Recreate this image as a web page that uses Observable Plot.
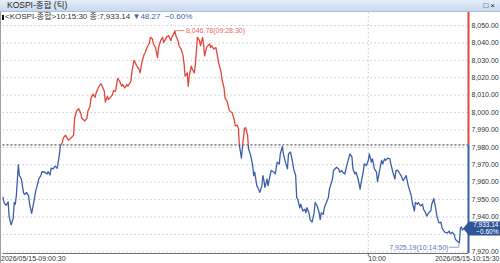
<!DOCTYPE html>
<html><head><meta charset="utf-8">
<script src="https://cdn.jsdelivr.net/npm/d3@7"></script>
<script src="https://cdn.jsdelivr.net/npm/@observablehq/plot@0.6"></script>
<style>
body{margin:0;background:#fff;}
#wrap{position:relative;width:500px;height:263px;overflow:hidden;font-family:"Liberation Sans","Noto Sans CJK KR",sans-serif;background:#fff;}
#titlebar{position:absolute;left:0;top:0;width:500px;height:11px;background:linear-gradient(#e6eef8,#c8daee);border-bottom:1px solid #a9c0da;font-size:8.5px;line-height:11px;color:#222;}
#titlebar .t{position:absolute;left:7px;top:0;}
#titlebar .ic{position:absolute;right:3px;top:0;font-size:8px;letter-spacing:2px;color:#222;}
#chart{position:absolute;left:0;top:12px;}
#lborder{position:absolute;left:0;top:12px;width:1px;height:251px;background:#a0a0a0;}
#legend{position:absolute;left:2px;top:11.5px;font-size:8px;line-height:9px;color:#333;white-space:nowrap;}
#legend .mk{display:inline-block;width:2px;height:5px;background:#111;margin-right:1px;vertical-align:-1px;}
#legend .dn{color:#3c62ad;}
</style></head>
<body>
<div id="wrap">
  <div id="titlebar"><span class="t">KOSPI-종합 (틱)</span><span class="ic">□×</span></div>
  <div id="chart"></div>
  <div id="lborder"></div>
  <div id="legend"></div>
</div>
<script>
const tradeDate = "2026-05-15";
const seriesName = "KOSPI-종합";
const prevClose = 7981.41;
const lastTime = "10:15:30";
const lastValue = 7933.14;
const changeValue = -48.27;
const changePct = -0.60;
const highTime = "09:28:30";
const highValue = 8046.78;
const lowTime = "10:14:50";
const lowValue = 7925.19;
const startTime = "09:00:30";
const axisEndTime = "10:16:19";
const yTicks = [7920,7930,7940,7950,7960,7970,7980,7990,8000,8010,8020,8030,8040,8050];
const xGridTimes = ["10:00:00"];
const xTickLabels = ["10:00"];

const times = [
"09:00:30","09:00:40","09:01:00","09:01:20","09:01:30","09:01:40","09:01:50","09:02:10","09:02:20","09:02:30",
"09:02:40","09:03:00","09:03:10","09:03:30","09:03:50","09:04:00","09:04:20","09:04:40","09:04:50","09:05:10",
"09:05:30","09:05:50","09:06:00","09:06:20","09:06:40","09:06:50","09:07:20","09:07:40","09:07:50","09:08:10",
"09:08:20","09:08:40","09:09:00","09:09:20","09:09:40","09:09:50","09:10:10","09:10:20","09:10:40","09:11:00",
"09:11:10","09:11:30","09:12:00","09:12:10","09:12:30","09:12:50","09:13:10","09:13:20","09:13:50","09:14:10",
"09:14:20","09:14:40","09:14:50","09:15:10","09:15:30","09:15:40","09:16:00","09:16:20","09:16:30","09:17:00",
"09:17:10","09:17:30","09:17:40","09:18:00","09:18:20","09:18:30","09:18:50","09:19:10","09:19:30","09:19:50",
"09:20:00","09:20:20","09:20:40","09:20:50","09:21:20","09:21:30","09:21:50","09:22:10","09:22:20","09:22:40",
"09:22:50","09:23:10","09:23:30","09:23:40","09:24:00","09:24:20","09:24:30","09:24:50","09:25:00","09:25:20",
"09:25:40","09:25:50","09:26:10","09:26:30","09:26:40","09:27:00","09:27:10","09:27:30","09:27:50","09:28:00",
"09:28:30","09:28:40","09:29:00","09:29:10","09:29:30","09:29:50","09:30:00","09:30:10","09:30:30","09:30:40",
"09:30:50","09:31:10","09:31:20","09:31:40","09:31:50","09:32:10","09:32:30","09:32:40","09:33:00","09:33:10",
"09:33:20","09:33:40","09:33:50","09:34:10","09:34:20","09:34:30","09:34:50","09:35:10","09:35:20","09:35:40",
"09:36:00","09:36:10","09:36:30","09:36:40","09:37:00","09:37:20","09:37:30","09:37:50","09:38:10","09:38:20",
"09:38:40","09:38:50","09:39:00","09:39:20","09:39:30","09:39:50","09:40:00","09:40:20","09:40:30","09:40:50",
"09:41:10","09:41:20","09:41:30","09:41:50","09:42:00","09:42:20","09:42:40","09:42:50","09:43:00","09:43:10",
"09:43:30","09:43:40","09:44:00","09:44:10","09:44:40","09:44:50","09:45:10","09:45:30","09:45:40","09:46:00",
"09:46:10","09:46:30","09:46:50","09:47:00","09:47:20","09:47:40","09:47:50","09:48:10","09:48:20","09:48:30",
"09:48:50","09:49:00","09:49:20","09:49:40","09:49:50","09:50:00","09:50:20","09:50:30","09:50:50","09:51:10",
"09:51:20","09:51:40","09:52:00","09:52:10","09:52:20","09:52:40","09:52:50","09:53:10","09:53:30","09:53:40",
"09:54:10","09:54:20","09:54:50","09:55:10","09:55:20","09:55:40","09:55:50","09:56:10","09:56:30","09:57:00",
"09:57:20","09:57:30","09:57:50","09:58:00","09:58:20","09:58:40","09:58:50","09:59:10","09:59:20","09:59:40",
"10:00:00","10:00:10","10:00:30","10:00:40","10:01:00","10:01:20","10:01:30","10:01:50","10:02:10","10:02:20",
"10:02:40","10:02:50","10:03:10","10:03:30","10:03:40","10:04:00","10:04:20","10:04:30","10:04:50","10:05:00",
"10:05:20","10:05:40","10:05:50","10:06:10","10:06:30","10:06:40","10:07:00","10:07:10","10:07:30","10:07:40",
"10:08:00","10:08:10","10:08:30","10:08:50","10:09:00","10:09:20","10:09:30","10:09:50","10:10:10","10:10:20",
"10:10:40","10:11:00","10:11:10","10:11:30","10:11:50","10:12:00","10:12:20","10:12:30","10:12:50","10:13:10",
"10:13:20","10:13:40","10:14:00","10:14:10","10:14:30","10:14:50","10:15:00","10:15:10","10:15:20","10:15:30"
];
const values = [
7951.2,7948.3,7946.7,7948.7,7940.5,7937.6,7935.5,7939.5,7948.3,7947.3,
7952.1,7970.0,7963.8,7961.8,7954.0,7952.9,7954.1,7952.1,7947.3,7942.0,
7948.3,7955.0,7957.0,7961.8,7963.8,7966.0,7965.7,7964.7,7966.0,7964.1,
7968.0,7967.6,7969.2,7968.0,7975.4,7980.8,7982.8,7985.5,7987.0,7985.1,
7984.1,7985.1,7987.0,7996.7,8001.0,8002.2,7999.6,7996.7,7995.2,7996.7,
8001.0,8003.5,8008.3,8010.6,8008.7,8011.2,8014.1,8016.1,8016.5,8012.2,
8006.0,8009.3,8007.4,8008.7,8010.3,8012.6,8012.2,8019.6,8018.0,8015.1,
8016.1,8014.1,8016.1,8015.1,8018.0,8023.8,8030.0,8027.7,8026.7,8024.8,
8022.8,8029.7,8033.5,8034.5,8037.8,8039.7,8043.2,8042.3,8039.4,8037.4,
8031.6,8037.4,8041.3,8043.2,8040.3,8042.3,8043.6,8044.2,8041.3,8043.2,
8046.78,8044.2,8041.3,8038.4,8036.5,8032.6,8027.7,8020.9,8022.8,8015.1,
8020.9,8026.7,8024.8,8022.8,8027.7,8043.2,8041.3,8038.4,8043.2,8039.4,
8032.6,8037.4,8038.4,8039.4,8037.4,8038.4,8036.5,8037.4,8034.5,8027.7,
8023.8,8019.0,8014.1,8008.3,8006.4,8001.6,8000.6,8000.0,7995.8,7992.4,
7992.8,7990.9,7981.2,7973.8,7980.2,7990.9,7991.3,7987.0,7979.2,7975.4,
7969.6,7963.8,7965.7,7958.0,7957.0,7954.1,7958.0,7963.8,7960.9,7957.0,
7961.8,7958.0,7963.8,7966.7,7965.7,7964.7,7971.5,7970.5,7976.3,7980.6,
7976.3,7971.5,7967.6,7976.3,7977.3,7971.5,7967.6,7963.8,7951.2,7950.2,
7945.3,7947.3,7943.4,7944.4,7942.4,7945.3,7942.4,7938.5,7937.0,7942.4,
7948.3,7946.3,7942.4,7938.5,7942.4,7941.5,7945.3,7948.3,7951.2,7956.0,
7961.8,7966.7,7968.6,7967.6,7965.7,7966.7,7965.7,7964.7,7969.6,7976.3,
7974.4,7967.6,7964.7,7965.7,7961.8,7956.0,7959.9,7965.7,7970.5,7969.6,
7972.5,7976.3,7971.5,7973.4,7967.6,7965.7,7960.3,7966.7,7972.5,7970.5,
7973.4,7972.5,7973.8,7973.4,7970.5,7965.7,7961.8,7966.7,7966.7,7965.7,
7963.8,7960.9,7961.8,7963.8,7958.0,7956.0,7952.1,7948.3,7943.4,7948.3,
7947.3,7948.3,7946.3,7947.3,7944.4,7942.4,7940.5,7942.4,7943.4,7947.3,
7950.6,7944.4,7940.5,7936.6,7937.0,7933.7,7931.8,7931.2,7930.8,7931.8,
7930.4,7931.2,7929.8,7927.2,7926.0,7925.19,7933.7,7934.3,7932.4,7933.14
];

const parseT = d3.utcParse("%Y-%m-%d %H:%M:%S");
const T = s => parseT(tradeDate + " " + s);
const data = times.map((t, i) => ({time: T(t), value: values[i]}));
const t0 = T(startTime), tAxis = T(axisEndTime);
const fmt2 = d3.format(",.2f");
const RED = "#e2453b", BLUE = "#3b5fa8";
const yTop = 8057.5, yBottom = 7919;

const highPt = [{time: T(highTime), value: highValue, label: `${fmt2(highValue)}(${highTime})`}];
const lowPt = [{time: T(lowTime), value: lowValue, label: `${fmt2(lowValue)}(${lowTime})`}];
const dateLabel = tradeDate.replace(/-/g, "/");
// tick labels hidden behind the last-price box are not drawn (as in the reference)
const yLabelTicks = yTicks.filter(v => Math.abs(v - lastValue) > 4.5);

const plot = Plot.plot({
  width: 500, height: 251,
  marginLeft: 2.5, marginRight: 32, marginTop: 0, marginBottom: 10,
  style: {fontFamily: '"Liberation Sans","Noto Sans CJK KR",sans-serif', background: "transparent", overflow: "visible"},
  x: {type: "utc", domain: [t0, tAxis], axis: null},
  y: {domain: [yBottom, yTop], axis: null},
  marks: [
    Plot.ruleY(yTicks, {stroke: "#c9c9c9", strokeDasharray: "1.5,2.5", strokeWidth: 1}),
    Plot.ruleX(xGridTimes.map(T), {stroke: "#c9c9c9", strokeDasharray: "1.5,2.5", strokeWidth: 1}),
    Plot.ruleY([prevClose], {stroke: "#333", strokeDasharray: "2,2", strokeWidth: 1}),
    Plot.line(data, {x: "time", y: "value", stroke: RED, strokeWidth: 1.3}),
    Plot.line(data, {x: "time", y: "value", stroke: BLUE, strokeWidth: 1.3}),
    Plot.ruleY([yBottom], {stroke: "#6f6f6f", strokeWidth: 1}),
    Plot.ruleX(xGridTimes.map(T), {y1: yBottom, y2: yBottom - 2, stroke: "#6f6f6f"}),
    Plot.ruleX([tAxis], {y1: prevClose, y2: yTop, stroke: RED, strokeWidth: 2}),
    Plot.ruleX([tAxis], {y1: yBottom, y2: prevClose, stroke: BLUE, strokeWidth: 2}),
    Plot.text(yLabelTicks, {x: () => tAxis, y: d => d, text: d => fmt2(d), textAnchor: "start", dx: 3, fontSize: 7, fill: "#333"}),
    Plot.text([startTime], {x: () => t0, y: () => yBottom, text: d => `${dateLabel}-${d}`, textAnchor: "start", dx: -2, dy: 5.5, fontSize: 7, fill: "#333"}),
    Plot.text(xTickLabels, {x: (d, i) => T(xGridTimes[i]), y: () => yBottom, text: d => d, textAnchor: "start", dx: 0, dy: 5.5, fontSize: 7, fill: "#333"}),
    Plot.text([lastTime], {x: () => tAxis, y: () => yBottom, text: d => `${dateLabel}-${d}`, textAnchor: "end", dx: 31, dy: 5.5, fontSize: 7, fill: "#333"}),
    Plot.text(highPt, {x: "time", y: "value", text: "label", textAnchor: "start", dx: 11, fontSize: 7, fill: "#e8675e"}),
    Plot.text(lowPt, {x: "time", y: "value", text: "label", textAnchor: "end", dx: -11, dy: 5, fontSize: 7, fill: "#5a79b8"})
  ]
});
document.getElementById("chart").appendChild(plot);

const svgEl = plot.tagName.toLowerCase() === "svg" ? plot : plot.querySelector("svg");
const svg = d3.select(svgEl);
const ys = plot.scale("y"), xs = plot.scale("x");
const yPrev = ys.apply(prevClose);
const defs = svg.insert("defs", ":first-child");
defs.append("clipPath").attr("id", "clipUp").append("rect").attr("x", 0).attr("y", -20).attr("width", 500).attr("height", yPrev + 20);
defs.append("clipPath").attr("id", "clipDown").append("rect").attr("x", 0).attr("y", yPrev).attr("width", 500).attr("height", 300);
const lineGroups = svg.selectAll('g[aria-label="line"]').nodes();
if (lineGroups.length >= 2) {
  d3.select(lineGroups[0]).attr("clip-path", "url(#clipUp)");
  d3.select(lineGroups[1]).attr("clip-path", "url(#clipDown)");
}
// leaders
const hx = xs.apply(T(highTime)), hy = ys.apply(highValue);
svg.append("line").attr("x1", hx).attr("y1", hy).attr("x2", hx + 10).attr("y2", hy).attr("stroke", "#e8675e").attr("stroke-width", 0.8);
const lx = xs.apply(T(lowTime)), ly = ys.apply(lowValue);
svg.append("polyline").attr("points", `${lx - 10},${ly + 5} ${lx},${ly + 5} ${lx},${ly + 1}`).attr("fill", "none").attr("stroke", "#6d86bd").attr("stroke-width", 0.8);
// last price marker
const ax = xs.apply(tAxis), cy = ys.apply(lastValue);
const g = svg.append("g");
g.append("path").attr("d", `M${ax - 5},${cy} L${ax + 1},${cy - 7} L500,${cy - 7} L500,${cy + 7} L${ax + 1},${cy + 7} Z`).attr("fill", "#2f5597");
g.append("text").attr("x", 498.5).attr("y", cy - 3).attr("dy", "0.32em").attr("text-anchor", "end").attr("fill", "#fff").attr("font-size", 6.5).text(fmt2(lastValue));
g.append("text").attr("x", 498.5).attr("y", cy + 3.6).attr("dy", "0.32em").attr("text-anchor", "end").attr("fill", "#fff").attr("font-size", 6.5).text(`${d3.format(".2f")(changePct)}%`);

// legend line
document.getElementById("legend").innerHTML =
  `<span class="mk"></span>&lt;${seriesName}&gt;${lastTime} 종:${fmt2(lastValue)} <span class="dn">▼${d3.format(".2f")(Math.abs(changeValue))} &nbsp;${d3.format(".2f")(changePct)}%</span>`;
</script>
</body></html>
